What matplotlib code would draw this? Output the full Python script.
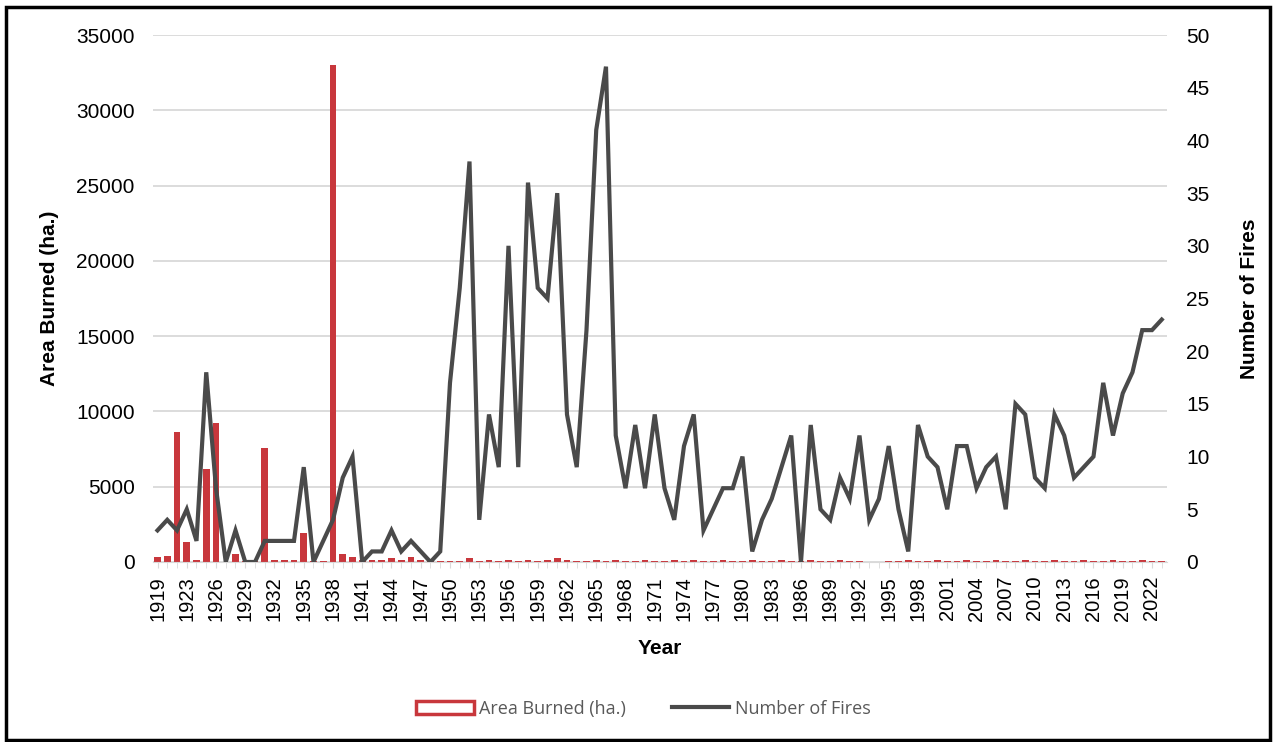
import matplotlib.pyplot as plt
from matplotlib.patches import Rectangle, Patch
from matplotlib.lines import Line2D
import numpy as np

plt.rcParams['font.family'] = ['Liberation Sans', 'DejaVu Sans']

# categories (Excel category axis, one gap between 1919 and 1921)
years = [1919, 1921, 1922] + list(range(1923, 2024))

# area burned (ha.)
area_burned = [300, 400, 8650, 1300, 100, 6200, 9200, 30, 500, 50,
               50, 7550, 100, 100, 100, 1950, 80, 80, 33000, 500,
               300, 100, 100, 150, 250, 150, 300, 150, 50, 50,
               50, 80, 250, 80, 100, 90, 100, 80, 100, 90,
               100, 250, 100, 90, 80, 100, 90, 100, 80, 90,
               100, 90, 80, 100, 90, 100, 80, 90, 100, 90,
               80, 100, 90, 80, 100, 90, 80, 100, 90, 80,
               100, 90, 80, 0, 20, 90, 80, 100, 90, 80,
               100, 90, 80, 100, 90, 80, 100, 90, 80, 100,
               90, 80, 100, 90, 80, 100, 90, 80, 100, 90,
               80, 100, 90, 80]

# number of fires
n_fires = [3, 4, 3, 5, 2, 18, 7, 0, 3, 0,
           0, 2, 2, 2, 2, 9, 0, 2, 4, 8,
           10, 0, 1, 1, 3, 1, 2, 1, 0, 1,
           17, 26, 38, 4, 14, 9, 30, 9, 36, 26,
           25, 35, 14, 9, 22, 41, 47, 12, 7, 13,
           7, 14, 7, 4, 11, 14, 3, 5, 7, 7,
           10, 1, 4, 6, 9, 12, 0, 13, 5, 4,
           8, 6, 12, 4, 6, 11, 5, 1, 13, 10,
           9, 5, 11, 11, 7, 9, 10, 5, 15, 14,
           8, 7, 14, 12, 8, 9, 10, 17, 12, 16,
           18, 22, 22, 23]

bar_color = '#C8373C'
line_color = '#4A4A4A'

fig = plt.figure(figsize=(12.74, 7.42), dpi=100)
ax = fig.add_axes([0.1198, 0.2426, 0.7959, 0.7102])
ax2 = ax.twinx()

x = np.arange(len(years))
ax.bar(x, area_burned, width=0.7, color=bar_color, zorder=2)
ax2.plot(x, n_fires, color=line_color, linewidth=3, solid_joinstyle='miter', zorder=3)

ax.set_xlim(-0.5, len(years) - 0.5)
ax.set_ylim(0, 35000)
ax2.set_ylim(0, 50)
ax.set_yticks(np.arange(0, 35001, 5000))
ax2.set_yticks(np.arange(0, 51, 5))
ax.set_xticks(x[::3])
ax.set_xticklabels([str(y) for y in years[::3]], rotation=90, fontsize=14.5)
ax.set_xticks(x, minor=True)

ax.grid(axis='y', color='#D9D9D9', linewidth=1.3, zorder=0)
ax.set_axisbelow(True)
for a in (ax, ax2):
    for s in a.spines.values():
        s.set_visible(False)
ax.spines['bottom'].set_visible(True)
ax.spines['bottom'].set_color('#D9D9D9')

ax.tick_params(axis='y', length=0, pad=13, labelsize=15)
ax2.tick_params(axis='y', length=0, pad=14, labelsize=15)
ax.tick_params(axis='x', which='both', length=4, color='#D9D9D9', pad=6)

ax.set_xlabel('Year', fontsize=15, fontweight='bold', labelpad=13)
ax.set_ylabel('Area Burned (ha.)', fontsize=15, fontweight='bold', labelpad=12)
ax2.set_ylabel('Number of Fires', fontsize=15, fontweight='bold', labelpad=22)

handles = [Patch(facecolor='white', edgecolor=bar_color, linewidth=2.5),
           Line2D([0], [0], color=line_color, linewidth=3)]
fig.legend(handles, ['Area Burned (ha.)', 'Number of Fires'],
           loc='center', bbox_to_anchor=(0.505, 0.045), ncol=2, frameon=False,
           prop={'family': 'Open Sans', 'size': 13}, labelcolor='#595959',
           handlelength=3.2, handletextpad=0.3, columnspacing=2.5)

# outer frame
fig.patches.append(Rectangle((6 / 1274, 2 / 742), 1264 / 1274, 733 / 742,
                             transform=fig.transFigure, fill=False,
                             edgecolor='black', linewidth=2.5))

fig.savefig('out.png', dpi=100)
